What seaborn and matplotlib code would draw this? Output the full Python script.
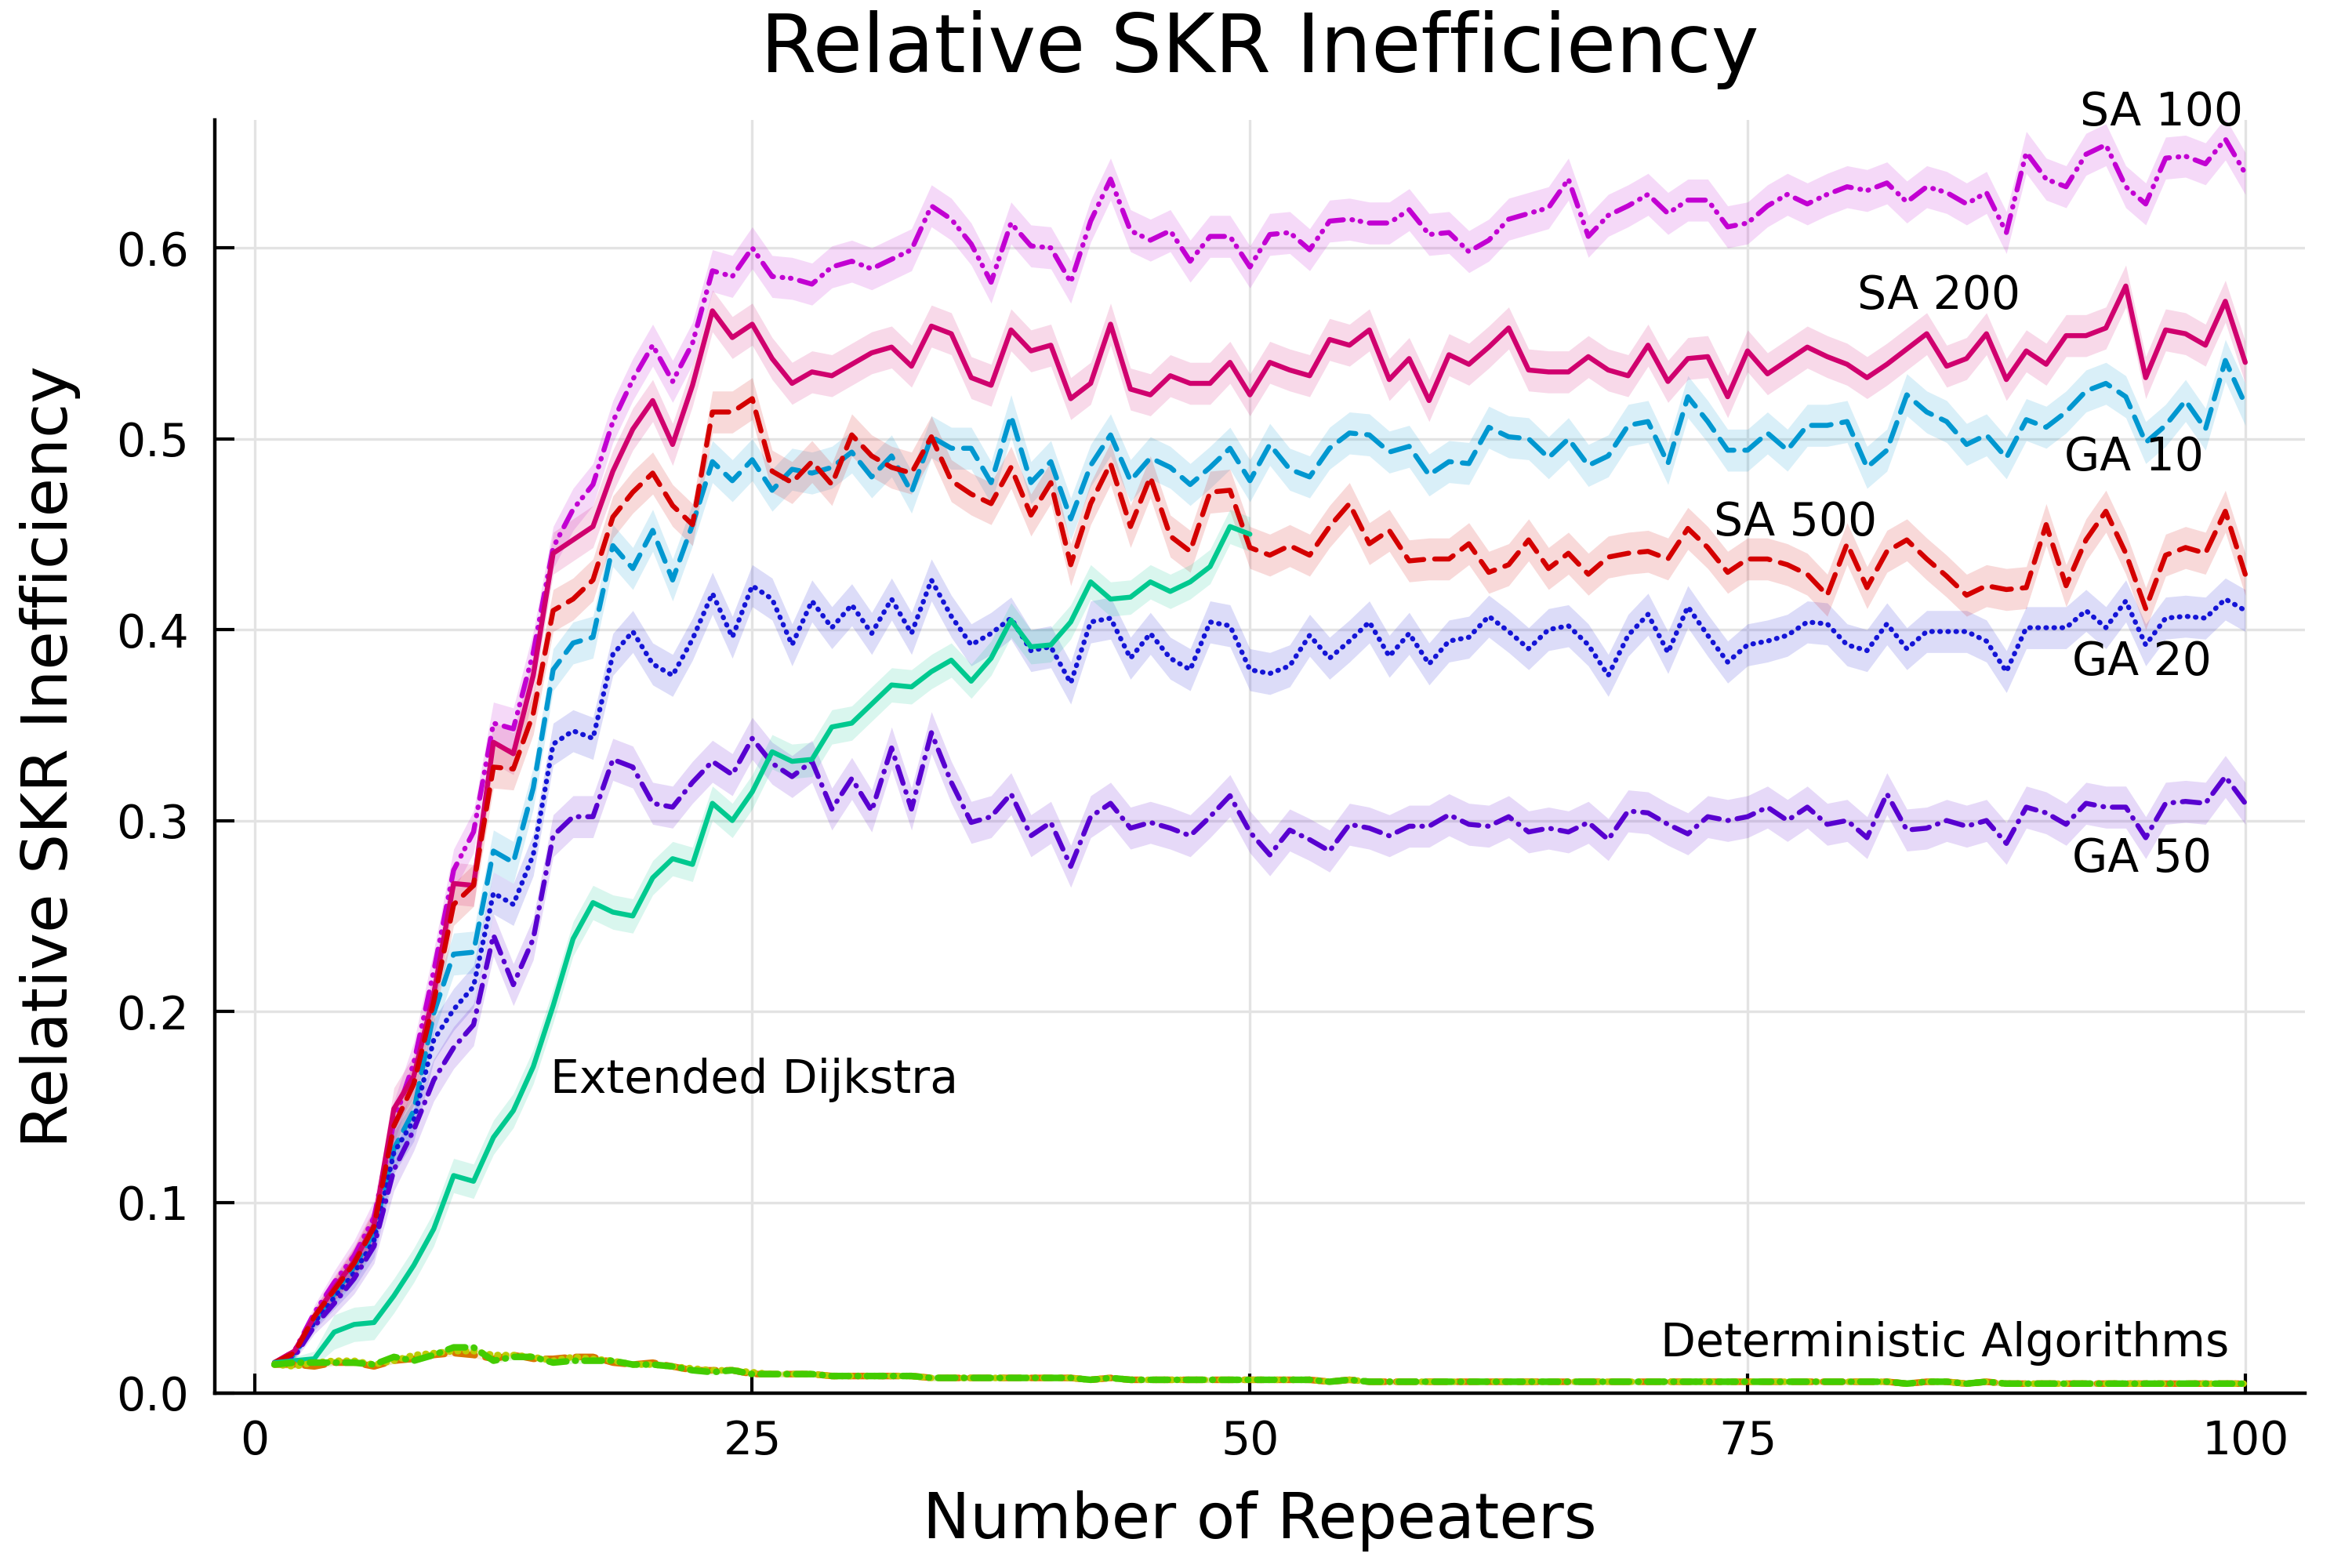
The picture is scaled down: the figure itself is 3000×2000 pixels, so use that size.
# Relative SKR inefficiency vs number of repeaters
# values

import matplotlib
matplotlib.use("Agg")
import matplotlib.pyplot as plt
import seaborn as sns
import numpy as np

# ---- data ----
repeaters = list(range(1, 101))
dijkstra_repeaters = list(range(1, 51))

sa100 = [0.016, 0.022, 0.042, 0.058, 0.072, 0.092, 0.142, 0.173, 0.221, 0.274,
         0.294, 0.351, 0.348, 0.388, 0.443, 0.463, 0.476, 0.509, 0.531, 0.549,
         0.530, 0.550, 0.588, 0.585, 0.600, 0.585, 0.584, 0.581, 0.590, 0.593,
         0.589, 0.594, 0.599, 0.622, 0.615, 0.602, 0.582, 0.613, 0.601, 0.600,
         0.582, 0.614, 0.636, 0.609, 0.604, 0.609, 0.593, 0.606, 0.606, 0.590,
         0.607, 0.608, 0.599, 0.614, 0.615, 0.613, 0.613, 0.620, 0.607, 0.608,
         0.598, 0.604, 0.615, 0.618, 0.621, 0.636, 0.606, 0.617, 0.622, 0.628,
         0.618, 0.625, 0.625, 0.611, 0.613, 0.622, 0.628, 0.623, 0.628, 0.632,
         0.630, 0.634, 0.624, 0.632, 0.629, 0.623, 0.629, 0.608, 0.650, 0.636,
         0.632, 0.649, 0.654, 0.632, 0.623, 0.647, 0.648, 0.644, 0.657, 0.639]

sa200 = [0.016, 0.022, 0.040, 0.055, 0.069, 0.088, 0.149, 0.166, 0.209, 0.267,
         0.266, 0.341, 0.335, 0.376, 0.440, 0.447, 0.454, 0.483, 0.505, 0.520,
         0.497, 0.528, 0.567, 0.553, 0.560, 0.542, 0.529, 0.535, 0.533, 0.539,
         0.545, 0.548, 0.538, 0.559, 0.555, 0.532, 0.528, 0.557, 0.546, 0.549,
         0.521, 0.529, 0.560, 0.526, 0.523, 0.533, 0.529, 0.529, 0.540, 0.523,
         0.540, 0.536, 0.533, 0.552, 0.549, 0.557, 0.531, 0.542, 0.520, 0.544,
         0.539, 0.548, 0.558, 0.536, 0.535, 0.535, 0.543, 0.536, 0.533, 0.549,
         0.530, 0.542, 0.543, 0.522, 0.546, 0.534, 0.541, 0.548, 0.543, 0.539,
         0.532, 0.539, 0.547, 0.555, 0.538, 0.542, 0.555, 0.531, 0.546, 0.539,
         0.554, 0.554, 0.558, 0.580, 0.532, 0.557, 0.555, 0.549, 0.572, 0.540]

sa500 = [0.016, 0.021, 0.040, 0.054, 0.068, 0.087, 0.140, 0.162, 0.205, 0.256,
         0.266, 0.328, 0.327, 0.356, 0.410, 0.416, 0.426, 0.459, 0.472, 0.482,
         0.465, 0.455, 0.514, 0.514, 0.521, 0.483, 0.477, 0.488, 0.476, 0.502,
         0.491, 0.485, 0.482, 0.501, 0.478, 0.471, 0.466, 0.485, 0.460, 0.477,
         0.434, 0.466, 0.487, 0.454, 0.480, 0.449, 0.441, 0.472, 0.473, 0.443,
         0.439, 0.444, 0.439, 0.454, 0.466, 0.445, 0.452, 0.436, 0.437, 0.437,
         0.445, 0.430, 0.434, 0.447, 0.432, 0.440, 0.429, 0.438, 0.440, 0.441,
         0.437, 0.453, 0.443, 0.430, 0.437, 0.437, 0.434, 0.429, 0.418, 0.445,
         0.422, 0.441, 0.447, 0.437, 0.428, 0.418, 0.423, 0.421, 0.422, 0.455,
         0.423, 0.447, 0.462, 0.440, 0.411, 0.439, 0.443, 0.440, 0.462, 0.429]

ga10 = [0.016, 0.020, 0.038, 0.052, 0.066, 0.084, 0.128, 0.148, 0.199, 0.230,
        0.231, 0.284, 0.278, 0.317, 0.379, 0.393, 0.396, 0.444, 0.432, 0.452,
        0.426, 0.455, 0.488, 0.478, 0.489, 0.473, 0.484, 0.482, 0.485, 0.493,
        0.480, 0.491, 0.472, 0.501, 0.495, 0.495, 0.477, 0.512, 0.477, 0.488,
        0.458, 0.486, 0.502, 0.478, 0.490, 0.485, 0.476, 0.485, 0.495, 0.478,
        0.497, 0.484, 0.480, 0.495, 0.503, 0.502, 0.493, 0.496, 0.481, 0.488,
        0.487, 0.506, 0.501, 0.500, 0.490, 0.500, 0.486, 0.491, 0.507, 0.509,
        0.487, 0.522, 0.509, 0.494, 0.494, 0.503, 0.494, 0.507, 0.507, 0.509,
        0.485, 0.494, 0.523, 0.514, 0.509, 0.497, 0.502, 0.490, 0.510, 0.506,
        0.514, 0.525, 0.529, 0.522, 0.498, 0.507, 0.520, 0.505, 0.541, 0.518]

ga20 = [0.016, 0.020, 0.037, 0.050, 0.063, 0.080, 0.126, 0.143, 0.185, 0.201,
        0.213, 0.262, 0.256, 0.282, 0.340, 0.347, 0.343, 0.387, 0.399, 0.382,
        0.376, 0.395, 0.419, 0.396, 0.423, 0.416, 0.392, 0.415, 0.401, 0.413,
        0.398, 0.416, 0.398, 0.426, 0.407, 0.392, 0.398, 0.406, 0.389, 0.391,
        0.372, 0.404, 0.406, 0.385, 0.398, 0.385, 0.379, 0.404, 0.402, 0.379,
        0.377, 0.381, 0.397, 0.385, 0.394, 0.404, 0.386, 0.398, 0.382, 0.394,
        0.396, 0.407, 0.399, 0.390, 0.400, 0.402, 0.392, 0.376, 0.397, 0.408,
        0.388, 0.412, 0.397, 0.383, 0.392, 0.394, 0.397, 0.404, 0.403, 0.392,
        0.389, 0.403, 0.390, 0.399, 0.399, 0.399, 0.394, 0.378, 0.401, 0.401,
        0.401, 0.410, 0.401, 0.415, 0.392, 0.406, 0.407, 0.406, 0.416, 0.410]

ga50 = [0.016, 0.019, 0.035, 0.047, 0.060, 0.077, 0.117, 0.138, 0.164, 0.181,
        0.193, 0.240, 0.214, 0.238, 0.292, 0.302, 0.302, 0.332, 0.328, 0.309,
        0.307, 0.320, 0.331, 0.324, 0.343, 0.330, 0.323, 0.331, 0.306, 0.322,
        0.305, 0.338, 0.306, 0.346, 0.320, 0.299, 0.302, 0.314, 0.292, 0.299,
        0.276, 0.302, 0.309, 0.296, 0.299, 0.296, 0.292, 0.302, 0.313, 0.294,
        0.282, 0.295, 0.290, 0.284, 0.298, 0.296, 0.292, 0.297, 0.297, 0.303,
        0.298, 0.297, 0.302, 0.294, 0.296, 0.294, 0.299, 0.290, 0.305, 0.304,
        0.298, 0.293, 0.302, 0.300, 0.302, 0.307, 0.300, 0.307, 0.298, 0.300,
        0.291, 0.314, 0.295, 0.296, 0.300, 0.297, 0.300, 0.288, 0.307, 0.304,
        0.298, 0.309, 0.307, 0.307, 0.291, 0.309, 0.310, 0.309, 0.323, 0.309]

dijkstra = [0.016, 0.017, 0.018, 0.032, 0.036, 0.037, 0.051, 0.067, 0.086, 0.114,
            0.111, 0.134, 0.148, 0.171, 0.203, 0.238, 0.257, 0.252, 0.250, 0.270,
            0.280, 0.277, 0.309, 0.300, 0.315, 0.336, 0.331, 0.332, 0.349, 0.351,
            0.361, 0.371, 0.370, 0.378, 0.384, 0.373, 0.385, 0.405, 0.391, 0.392,
            0.404, 0.425, 0.416, 0.417, 0.425, 0.420, 0.425, 0.433, 0.454, 0.450]

# deterministic algorithms: first 30 points differ, after that they sit together
det_tail = [0.009, 0.009, 0.009, 0.008, 0.008, 0.008, 0.008, 0.008, 0.008, 0.008,
            0.008, 0.007, 0.008, 0.007, 0.007, 0.007, 0.007, 0.007, 0.007, 0.007,
            0.007, 0.007, 0.007, 0.006, 0.007, 0.006, 0.006, 0.006, 0.006, 0.006,
            0.006, 0.006, 0.006, 0.006, 0.006, 0.006, 0.006, 0.006, 0.006, 0.006,
            0.006, 0.006, 0.006, 0.006, 0.006, 0.006, 0.006, 0.006, 0.006, 0.006,
            0.006, 0.006, 0.005, 0.006, 0.006, 0.005, 0.006, 0.005, 0.005, 0.005,
            0.005, 0.005, 0.005, 0.005, 0.005, 0.005, 0.005, 0.005, 0.005, 0.005]
det_orange_head = [0.015, 0.015, 0.014, 0.016, 0.016, 0.014, 0.017, 0.018, 0.020, 0.021,
                   0.020, 0.018, 0.020, 0.018, 0.018, 0.019, 0.019, 0.016, 0.015, 0.016,
                   0.014, 0.012, 0.012, 0.012, 0.010, 0.010, 0.010, 0.010, 0.009, 0.009]
det_yellow_head = [0.015, 0.014, 0.016, 0.017, 0.017, 0.015, 0.017, 0.020, 0.021, 0.022,
                   0.022, 0.020, 0.020, 0.019, 0.017, 0.019, 0.018, 0.017, 0.015, 0.015,
                   0.014, 0.013, 0.012, 0.012, 0.011, 0.010, 0.010, 0.010, 0.009, 0.009]
det_green_head = [0.015, 0.016, 0.016, 0.016, 0.016, 0.015, 0.019, 0.017, 0.020, 0.024,
                  0.024, 0.017, 0.019, 0.019, 0.016, 0.017, 0.017, 0.017, 0.015, 0.015,
                  0.014, 0.012, 0.011, 0.012, 0.010, 0.010, 0.010, 0.010, 0.009, 0.009]

# half width of the shaded ribbons (small at the start, then constant)
band_start = [0.001, 0.002, 0.004, 0.006, 0.008, 0.009]
band_width = 0.011
dijkstra_band = 0.009
det_band = 0.0015

# ---- style ----
sns.set_theme(style="white")
plt.rcParams["font.family"] = ["DejaVu Sans"]
plt.rcParams["lines.scale_dashes"] = False
plt.rcParams["text.color"] = "black"
plt.rcParams["axes.labelcolor"] = "black"
plt.rcParams["xtick.color"] = "black"
plt.rcParams["ytick.color"] = "black"

DASH = (0, (9, 5))
DOT = (0, (0.3, 3.4))
DASHDOT = (0, (8, 4, 0.3, 4))
DASHDOTDOT = (0, (8, 4, 0.3, 3.5, 0.3, 4))

series = [
    ("GA 10", ga10, "#0097d0", DASH),
    ("GA 20", ga20, "#1515d6", DOT),
    ("GA 50", ga50, "#5800d0", DASHDOT),
    ("SA 100", sa100, "#c200d2", DASHDOTDOT),
    ("SA 200", sa200, "#d0006e", "-"),
    ("SA 500", sa500, "#d40000", DASH),
]

fig, ax = plt.subplots(figsize=(15, 10), dpi=200)
fig.subplots_adjust(left=0.0913, right=0.98, bottom=0.1115, top=0.9235)

n = len(repeaters)
full_band = np.array(band_start + [band_width] * (n - len(band_start)))

for name, vals, col, ls in series:
    y = np.array(vals)
    ax.fill_between(repeaters, y - full_band, y + full_band, color=col, alpha=0.15, lw=0)
    sns.lineplot(x=repeaters, y=vals, ax=ax, color=col, linestyle=ls, lw=2.3,
                 dash_capstyle="round", errorbar=None)

# extended dijkstra
yd = np.array(dijkstra)
bd = np.array(band_start[:3] + [dijkstra_band] * (len(dijkstra) - 3))
ax.fill_between(dijkstra_repeaters, yd - bd, yd + bd, color="#00c98f", alpha=0.15, lw=0)
sns.lineplot(x=dijkstra_repeaters, y=dijkstra, ax=ax, color="#00c98f", lw=2.3, errorbar=None)

# deterministic algorithms
det = [
    (det_orange_head + det_tail, "#d97400", DASH),
    (det_yellow_head + det_tail, "#bccb00", DOT),
    (det_green_head + det_tail, "#43cc00", DASHDOT),
]
for vals, col, ls in det:
    y = np.array(vals)
    ax.fill_between(repeaters, y - det_band, y + det_band, color=col, alpha=0.15, lw=0)
    sns.lineplot(x=repeaters, y=vals, ax=ax, color=col, linestyle=ls, lw=3,
                 dash_capstyle="round", errorbar=None)

# ---- labels on the curves ----
labels = [
    ("SA 100", 95.8, 0.671),
    ("SA 200", 84.6, 0.575),
    ("GA 10", 94.4, 0.490),
    ("SA 500", 77.4, 0.456),
    ("GA 20", 94.8, 0.383),
    ("GA 50", 94.8, 0.280),
    ("Extended Dijkstra", 25.1, 0.164),
    ("Deterministic Algorithms", 84.9, 0.026),
]
for txt, lx, ly in labels:
    ax.text(lx, ly, txt, ha="center", va="center", fontsize=21, clip_on=False)

# ---- axes ----
ax.set_xlim(-2, 103)
ax.set_ylim(0, 0.667)
ax.set_xticks([0, 25, 50, 75, 100])
ax.set_yticks([0.0, 0.1, 0.2, 0.3, 0.4, 0.5, 0.6])
ax.set_yticklabels(["0.0", "0.1", "0.2", "0.3", "0.4", "0.5", "0.6"])
ax.tick_params(axis="both", direction="in", length=9, width=1.5, labelsize=21,
               color="black", labelcolor="black", pad=12, left=True, bottom=True)
ax.grid(True, color="#e3e3e3", lw=1.2)
ax.set_axisbelow(True)
for side in ["top", "right"]:
    ax.spines[side].set_visible(False)
for side in ["left", "bottom"]:
    ax.spines[side].set_color("black")
    ax.spines[side].set_linewidth(1.6)

ax.set_title("Relative SKR Inefficiency", fontsize=37, pad=22, color="black")
ax.set_xlabel("Number of Repeaters", fontsize=29, labelpad=12, color="black")
ax.set_ylabel("Relative SKR Inefficiency", fontsize=29, labelpad=16, color="black")

plt.savefig("out.png", dpi=200)
plt.close()
